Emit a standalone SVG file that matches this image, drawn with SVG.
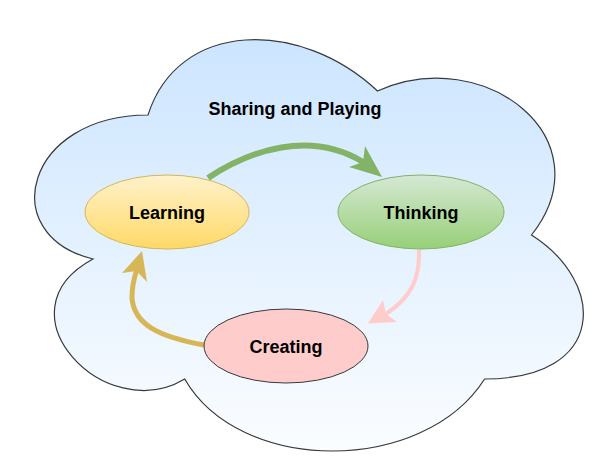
<svg xmlns="http://www.w3.org/2000/svg" width="600" height="465" viewBox="0 0 600 465">
  <defs>
    <linearGradient id="gCloud" x1="0" y1="0" x2="0" y2="1">
      <stop offset="0" stop-color="#cce5ff"/>
      <stop offset="1" stop-color="#fbfdff"/>
    </linearGradient>
    <linearGradient id="gLearn" x1="0" y1="0" x2="0" y2="1">
      <stop offset="0" stop-color="#fff2cc"/>
      <stop offset="1" stop-color="#ffd966"/>
    </linearGradient>
    <linearGradient id="gThink" x1="0" y1="0" x2="0" y2="1">
      <stop offset="0" stop-color="#d5e8d4"/>
      <stop offset="1" stop-color="#97d077"/>
    </linearGradient>
    <style>
      text { font-family: "Liberation Sans", Arial, Helvetica, sans-serif; font-weight: bold; font-size: 18px; fill: #000; text-anchor: middle; }
      .edge { fill: none; stroke-linecap: butt; }
    </style>
  </defs>
  <rect width="600" height="465" fill="#ffffff"/>
  <g id="cloud">
    <path d="M 148,115 C 25.4,115 -5,235 93,259 C -5,311.8 105.2,427 184.7,379 C 239.8,475 423.4,475 484.6,379 C 607,379 607,283 531.5,235 C 607,139 484.6,43 377.5,91 C 301,19 178.6,19 148,115 Z" fill="url(#gCloud)" stroke="#36393d" stroke-width="1.2"/>
    <text x="295" y="115">Sharing and Playing</text>
  </g>
  <g id="connectors">
    <path class="edge" d="M 208,178 C 250,150 310,130 363,162" stroke="#82b366" stroke-width="6"/>
    <polygon points="382,177 365,146 363,162 349,167" fill="#82b366"/>
    <path class="edge" d="M 419,250 C 420,280 410,298 386,314" stroke="#ffcccc" stroke-width="4"/>
    <polygon points="368,323.5 383,300 386,314 397,322" fill="#ffcccc"/>
    <path class="edge" d="M 204,345 C 160,337 134,325 132,298 Q 132,284 136.5,271" stroke="#d6b656" stroke-width="5"/>
    <polygon points="142,251 122,273 136.5,271 147,282" fill="#d6b656"/>
  </g>
  <g id="learning">
    <ellipse cx="167" cy="212" rx="82" ry="37" fill="url(#gLearn)" stroke="#d6b656" stroke-width="1"/>
    <text x="167" y="219">Learning</text>
  </g>
  <g id="thinking">
    <ellipse cx="421" cy="212" rx="83" ry="37" fill="url(#gThink)" stroke="#82b366" stroke-width="1"/>
    <text x="421" y="219">Thinking</text>
  </g>
  <g id="creating">
    <ellipse cx="286" cy="346" rx="82" ry="37" fill="#ffcccc" stroke="#36393d" stroke-width="1"/>
    <text x="286" y="353">Creating</text>
  </g>
</svg>
